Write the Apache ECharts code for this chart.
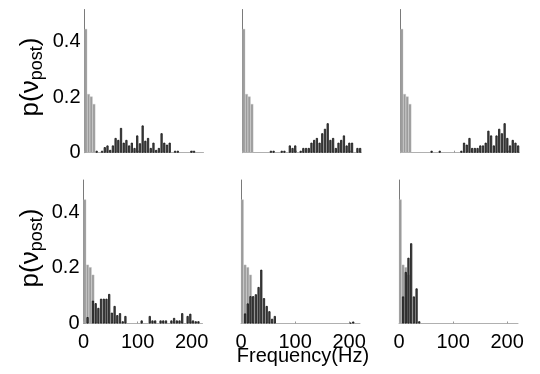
<!DOCTYPE html>
<html>
<head>
<meta charset="utf-8">
<script src="https://cdn.jsdelivr.net/npm/echarts@6/dist/echarts.min.js"></script>
<style>html,body{margin:0;padding:0;background:#fff}#c{width:540px;height:374px}</style>
</head>
<body>
<div id="c"></div>
<script>
// 5 Hz bins, start frequency of each bin
const binStarts = [0,5,10,15,20,25,30,35,40,45,50,55,60,65,70,75,80,85,90,95,100,105,110,115,120,125,130,135,140,145,150,155,160,165,170,175,180,185,190,195,200,205,210,215];
const xTicks = [0, 100, 200];
const yTicks = [0, 0.2, 0.4];

// input distribution (light gray), same in every panel
const lightDist = [0.445,0.211,0.202,0.175,0,0,0,0,0,0,0,0,0,0,0,0,0,0,0,0,0,0,0,0,0,0,0,0,0,0,0,0,0,0,0,0,0,0,0,0,0,0,0,0];

// output distributions (dark gray), one per panel
const dark1 = [0,0,0,0,0.007,0,0.007,0.02,0.026,0.01,0.026,0.053,0.046,0.089,0.036,0.046,0.026,0.036,0.017,0.062,0.034,0.098,0.043,0.053,0.017,0.036,0.01,0.017,0.07,0.036,0.029,0.036,0,0.007,0.007,0,0,0,0,0.007,0.007,0,0,0];
const dark2 = [0,0,0,0,0,0,0,0,0,0,0.007,0.007,0,0,0.007,0.007,0,0.026,0.017,0.026,0,0.007,0.017,0.017,0.017,0.036,0.046,0.053,0.036,0.07,0.086,0.106,0.046,0.053,0.017,0.036,0.046,0.062,0.026,0.036,0.036,0,0.017,0.017];
const dark3 = [0,0,0,0,0,0,0,0,0,0,0,0.007,0,0,0.007,0,0,0,0,0,0,0,0.007,0.036,0.029,0.053,0.017,0.017,0.017,0.026,0.026,0.036,0.079,0.062,0.026,0.062,0.086,0.07,0.106,0.053,0.026,0.046,0.036,0.026];
const dark4 = [0,0.023,0,0.082,0.073,0.056,0.089,0.089,0.089,0.106,0.039,0.063,0.03,0.037,0.008,0.027,0,0,0,0,0,0.011,0,0,0.027,0.011,0.011,0,0.011,0.011,0.011,0,0.011,0.02,0.011,0.011,0.037,0,0.027,0.035,0.011,0.008,0.008,0];
const dark5 = [0,0.036,0.072,0.098,0.098,0.105,0.131,0.193,0.091,0.063,0.044,0.017,0.027,0,0,0,0,0,0,0,0,0,0,0,0,0,0,0,0,0,0,0,0,0,0,0,0,0,0,0,0.003,0.007,0,0];
const dark6 = [0,0.097,0.185,0.236,0.288,0.097,0.126,0.008,0,0,0,0,0,0,0,0,0,0,0,0,0,0,0,0,0,0,0,0,0,0,0,0,0,0,0,0,0,0,0,0,0,0,0,0];
const darkSets = [dark1, dark2, dark3, dark4, dark5, dark6];

const yLabelMain = 'p(ν';
const yLabelSub = 'post';
const yLabelEnd = ')';
const xLabel = 'Frequency(Hz)';

const FONT = 'Liberation Sans, Arial, Helvetica, sans-serif';
const lefts = [[84.5, 242.5, 400.5], [83.5, 241, 399]];
const tops = [9.5, 180];
const heights = [143.2, 143.5];
const W = 119;

const option = { animation: false, grid: [], xAxis: [], yAxis: [], series: [], graphic: [] };
const nz = a => a.map(v => v === 0 ? '-' : v);

for (let p = 0; p < 6; p++) {
  const row = p < 3 ? 0 : 1, col = p % 3;
  option.grid.push({ left: lefts[row][col], top: tops[row], width: W, height: heights[row] });
  option.xAxis.push({ type: 'category', gridIndex: p, data: binStarts, show: false, boundaryGap: true });
  option.xAxis.push({ type: 'category', gridIndex: p, data: binStarts, show: false, boundaryGap: true });
  option.xAxis.push({
    type: 'value', gridIndex: p, min: 0, max: 220, position: 'bottom',
    axisLine: { show: true, onZero: false, lineStyle: { color: '#b0b0b0', width: 1 } },
    axisTick: { show: true, inside: true, length: 2, customValues: xTicks, lineStyle: { color: '#999' } },
    axisLabel: { show: row === 1, customValues: xTicks, fontSize: 20, color: '#000', fontFamily: FONT, margin: 9 },
    splitLine: { show: false }
  });
  option.yAxis.push({
    type: 'value', gridIndex: p, min: 0, max: 0.515,
    axisLine: { show: true, onZero: false, lineStyle: { color: '#7a7a7a', width: 1 } },
    axisTick: { show: col === 0, inside: true, length: 2, customValues: yTicks, lineStyle: { color: '#777' } },
    axisLabel: { show: col === 0, customValues: yTicks, fontSize: 20, color: '#000', fontFamily: FONT, margin: 4,
      formatter: v => v === 0 ? '0' : v.toFixed(1) },
    splitLine: { show: false }
  });
  option.series.push({
    type: 'bar', xAxisIndex: 3 * p, yAxisIndex: p, data: nz(lightDist), barCategoryGap: '0%', silent: true,
    itemStyle: { color: '#9b9b9b', borderColor: '#c4c4c4', borderWidth: 0.4 }
  });
  option.series.push({
    type: 'bar', xAxisIndex: 3 * p + 1, yAxisIndex: p, data: nz(darkSets[p]), barWidth: '80%', silent: true,
    itemStyle: { color: '#505050', borderColor: '#111', borderWidth: 0.8 }
  });
}

for (let row = 0; row < 2; row++) {
  option.graphic.push({
    type: 'text', x: 31, y: row === 0 ? 77 : 248, rotation: Math.PI / 2,
    style: {
      text: '{n|' + yLabelMain + '}{s|' + yLabelSub + '}{n|' + yLabelEnd + '}',
      align: 'center', verticalAlign: 'middle', fill: '#000',
      rich: {
        n: { fontSize: 26, fontFamily: FONT, lineHeight: 30, fill: '#000' },
        s: { fontSize: 18, fontFamily: FONT, lineHeight: 18, verticalAlign: 'bottom', fill: '#000' }
      }
    }
  });
}
option.graphic.push({
  type: 'text', x: 303, y: 356,
  style: { text: xLabel, fontSize: 20, fontFamily: FONT, fill: '#000', align: 'center', verticalAlign: 'middle' }
});

echarts.init(document.getElementById('c'), null, { renderer: 'canvas' }).setOption(option);
</script>
</body>
</html>
